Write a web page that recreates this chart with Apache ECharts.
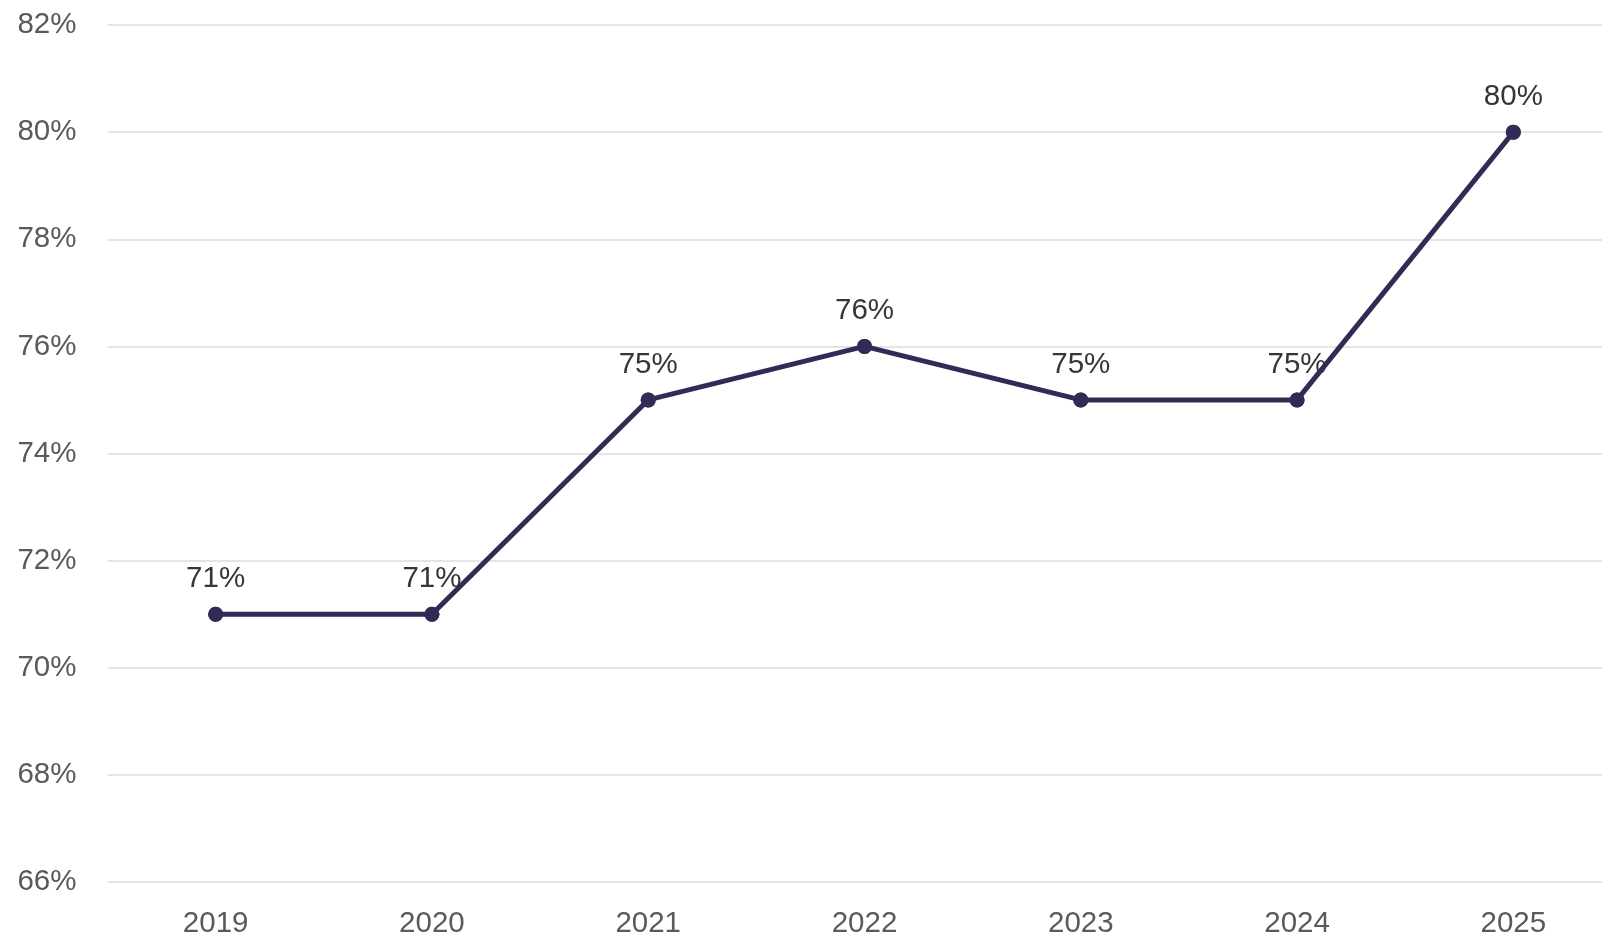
<!DOCTYPE html>
<html>
<head>
<meta charset="utf-8">
<script src="https://cdn.jsdelivr.net/npm/echarts@6/dist/echarts.min.js"></script>
<style>
html,body{margin:0;padding:0;background:#fff;}
#chart{width:1602px;height:937px;}
</style>
</head>
<body>
<div id="chart"></div>
<script>
const years = ['2019', '2020', '2021', '2022', '2023', '2024', '2025'];
const shareValues = [71, 71, 75, 76, 75, 75, 80];
const yMin = 66, yMax = 82, yStep = 2;

const chart = echarts.init(document.getElementById('chart'), null, {renderer: 'canvas'});
chart.setOption({
  backgroundColor: '#ffffff',
  animation: false,
  grid: {left: 107.5, width: 1514, top: 25, bottom: 55, containLabel: false, outerBoundsMode: 'none'},
  xAxis: {
    type: 'category',
    data: years,
    boundaryGap: true,
    axisLine: {show: false},
    axisTick: {show: false},
    axisLabel: {color: '#5a5a5a', fontFamily: 'Liberation Sans', fontSize: 29.5, margin: 27}
  },
  yAxis: {
    type: 'value',
    min: yMin, max: yMax, interval: yStep,
    axisLine: {show: false},
    axisTick: {show: false},
    axisLabel: {color: '#5a5a5a', fontFamily: 'Liberation Sans', fontSize: 29.5, margin: 31, formatter: '{value}%'},
    splitLine: {lineStyle: {color: '#dcdcdc', width: 1.5}}
  },
  series: [{
    type: 'scatter',
    data: shareValues,
    symbol: 'circle',
    symbolSize: 15,
    z: 1,
    itemStyle: {color: '#302c56', opacity: 1},
    label: {
      show: true, position: 'top', distance: 13, opacity: 1,
      formatter: '{c}%', color: '#363636', fontFamily: 'Liberation Sans', fontSize: 29.5
    },
    emphasis: {disabled: true},
    silent: true
  }, {
    type: 'line',
    data: shareValues,
    symbol: 'circle',
    symbolSize: 15,
    z: 3,
    lineStyle: {color: '#302c56', width: 5},
    itemStyle: {color: '#302c56'},
    label: {show: false}
  }]
});
</script>
</body>
</html>
